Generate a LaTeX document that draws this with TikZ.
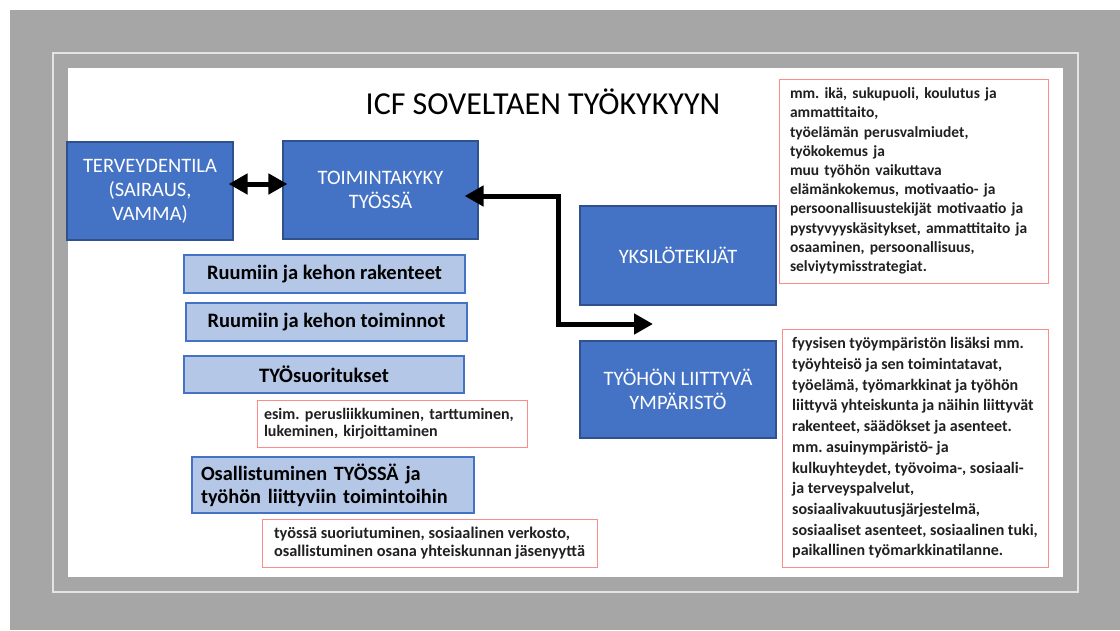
\documentclass[tikz,border=0pt]{standalone}
\usepackage{fontspec}
\setmainfont{Carlito}
\frenchspacing
\usetikzlibrary{arrows.meta}
\tikzset{
  mainbox/.style={draw=boxline, fill=boxblue, line width=1.2pt, text=white, align=center, font=\fontsize{20.5}{24}\selectfont},
  subbox/.style={draw=boxblue, fill=lightblue, line width=1.2pt, align=center, font=\bfseries\fontsize{20.5}{23}\selectfont},
  notebox/.style={draw=notered, fill=white, line width=1pt, align=left, text=notetext, font=\bfseries\fontsize{15.5}{19.2}\selectfont},
  bigarrow/.style={line width=5pt, {Triangle[length=19pt,width=20pt]}-{Triangle[length=19pt,width=20pt]}},
}
\begin{document}
\begin{tikzpicture}[x=1pt, y=-1pt]
\definecolor{framegray}{HTML}{A6A6A6}
\definecolor{frameline}{HTML}{E4E4E4}
\definecolor{boxblue}{HTML}{4472C4}
\definecolor{boxline}{HTML}{2F528F}
\definecolor{lightblue}{HTML}{B4C7E7}
\definecolor{notered}{HTML}{FF8A8C}
\definecolor{notetext}{HTML}{202020}
\useasboundingbox (0,0) rectangle (1120,630);
% frame
\fill[framegray] (10,10) rectangle (1120,630);
\draw[frameline, line width=1.2pt] (53,53) rectangle (1078,592);
\fill[white] (68,68) rectangle (1063,577);
\node (title) at (543,102) {\fontsize{32}{38}\selectfont ICF SOVELTAEN TYÖKYKYYN};
% main boxes
\node[mainbox, minimum width=166pt, minimum height=98pt] (terveys) at (150,191) {TERVEYDENTILA\\(SAIRAUS,\\VAMMA)};
\node[mainbox, minimum width=195pt, minimum height=98pt] (toiminta) at (380.5,190) {TOIMINTAKYKY\\TYÖSSÄ};
\node[mainbox, minimum width=196pt, minimum height=99pt] (yksilo) at (678,255.5) {YKSILÖTEKIJÄT};
\node[mainbox, minimum width=196pt, minimum height=97pt] (ymparisto) at (678,389.5) {TYÖHÖN LIITTYVÄ\\YMPÄRISTÖ};
% components
\node[subbox, minimum width=281pt, minimum height=38pt] (rakenteet) at (324.5,274) {Ruumiin ja kehon rakenteet};
\node[subbox, minimum width=281pt, minimum height=38pt] (toiminnot) at (326.5,322) {Ruumiin ja kehon toiminnot};
\node[subbox, minimum width=280pt, minimum height=37pt] (suoritukset) at (324,374.5) {TYÖsuoritukset};
\node[subbox, align=left, inner xsep=9pt, text width=264pt, minimum width=282pt, minimum height=56pt, font=\bfseries\fontsize{20.3}{23}\selectfont] (osallistuminen) at (333,485) {Osallistuminen TYÖSSÄ ja\\työhön liittyviin toimintoihin};
% notes
\node[notebox, inner xsep=7pt, text width=256pt, minimum width=270pt, minimum height=47pt, font=\bfseries\fontsize{16}{17}\selectfont] (esim) at (392,423.5) {esim. perusliikkuminen, tarttuminen,\\lukeminen, kirjoittaminen};
\node[notebox, minimum width=335pt, minimum height=48pt, font=\bfseries\fontsize{16.3}{18}\selectfont] (tyossa) at (429.5,543) {työssä suoriutuminen, sosiaalinen verkosto,\\osallistuminen osana yhteiskunnan jäsenyyttä};
\node[notebox, inner xsep=11pt, text width=247pt, minimum width=269pt, minimum height=204pt] (yksilonote) at (913.5,181) {mm. ikä, sukupuoli, koulutus ja\\ammattitaito,\\työelämän perusvalmiudet,\\työkokemus ja\\muu työhön vaikuttava\\elämänkokemus, motivaatio- ja\\persoonallisuustekijät motivaatio ja\\pystyvyyskäsitykset, ammattitaito ja\\osaaminen, persoonallisuus,\\selviytymisstrategiat.};
\node[notebox, minimum width=266pt, minimum height=238pt, font=\bfseries\fontsize{16}{20.7}\selectfont] (ymparistonote) at (915,448) {fyysisen työympäristön lisäksi mm.\\työyhteisö ja sen toimintatavat,\\työelämä, työmarkkinat ja työhön\\liittyvä yhteiskunta ja näihin liittyvät\\rakenteet, säädökset ja asenteet.\\mm. asuinympäristö- ja\\kulkuyhteydet, työvoima-, sosiaali-\\ja terveyspalvelut,\\sosiaalivakuutusjärjestelmä,\\sosiaaliset asenteet, sosiaalinen tuki,\\paikallinen työmarkkinatilanne.};
% arrows
\draw[bigarrow, shorten <=-5pt, shorten >=-5pt] ([yshift=7pt]terveys.east) -- ([yshift=7pt]terveys.east -| toiminta.west);
\coordinate (bend) at (558,324);
\coordinate (envtip) at (653,324);
\draw[bigarrow, shorten >=-14pt] (envtip) -- (bend) |- ([yshift=-6pt]toiminta.east);
\end{tikzpicture}
\end{document}
